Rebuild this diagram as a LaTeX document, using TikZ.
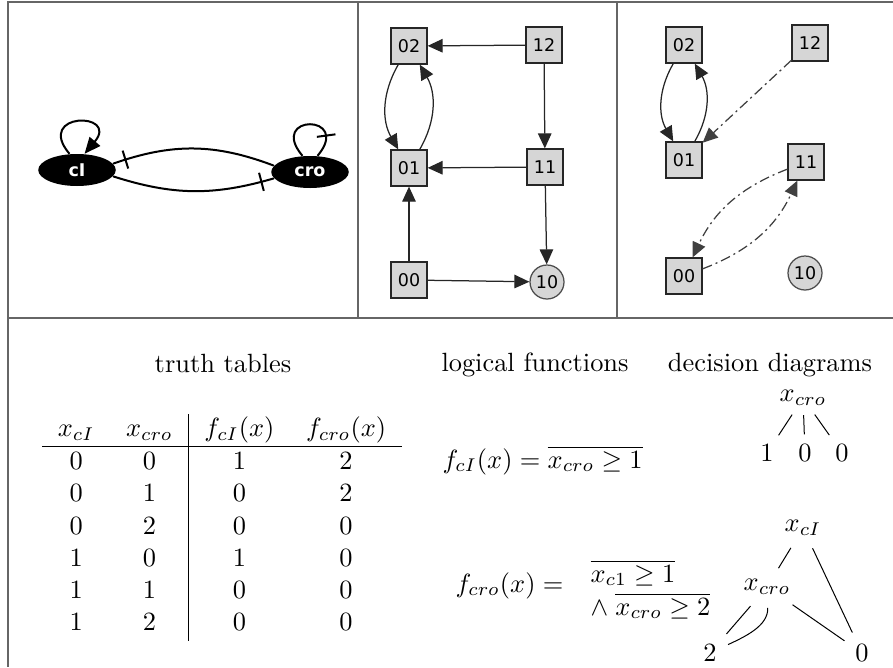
\documentclass[tikz,border=0pt]{standalone}
\usepackage{amsmath}
\usepackage{amssymb}
\usepackage{fontspec}
\newfontfamily\graphfont{DejaVu Sans}
\usepackage{tikz}
\usetikzlibrary{shapes.geometric,arrows.meta}

\begin{document}
\begin{tikzpicture}[x=0.4pt, y=-0.4pt,
    panel/.style={draw=black!60, line width=0.7pt},
    gene/.style={ellipse, fill=black, text=white, minimum width=31pt, minimum height=12.8pt, inner sep=0pt, font=\graphfont\bfseries\fontsize{7}{8}\selectfont},
    stbox/.style={rectangle, draw=black!85, fill=black!16, minimum size=14.4pt, inner sep=0pt, line width=0.5pt, font=\graphfont\fontsize{7}{8}\selectfont},
    stcirc/.style={circle, draw=black!70, fill=black!16, minimum size=13.6pt, inner sep=0pt, line width=0.5pt, font=\graphfont\fontsize{7}{8}\selectfont},
    trarrow/.style={-{Triangle[length=6pt,width=5.4pt]}, line width=0.5pt, draw=black!85},
    asyncarrow/.style={trarrow, draw=black!75, dash pattern=on 4pt off 1.6pt on 0.8pt off 1.6pt},
    inhib/.style={line width=0.8pt},
    inhbar/.style={rectangle, fill=black, inner sep=0pt, minimum width=0.8pt, minimum height=7.5pt, sloped},
    bigtext/.style={scale=1.055},
    ddline/.style={line width=0.4pt, shorten <=3pt, shorten >=2.5pt}
]
    \useasboundingbox (0,0) rectangle (893,667);

    % Frame
    \draw[panel] (893,2) -- (8,2) -- (8,667);
    \draw[panel] (8,318) -- (893,318);
    \draw[panel] (358,2) -- (358,318);
    \draw[panel] (617,2) -- (617,318);

    % Regulatory graph
    \node[gene] (cI) at (77,170) {cI};
    \node[gene] (cro) at (310,172) {cro};
    \draw[inhib, -{Triangle[length=6.5pt,width=5.5pt]}] (cI.115) .. controls +(130:22pt) and +(50:22pt) .. (cI.65);
    \draw[inhib] (cro.115) .. controls +(130:22pt) and +(50:22pt) .. node[inhbar, pos=0.8] {} (cro.65);
    \draw[inhib] (cro.170) to[bend right=20] node[inhbar, pos=0.93] {} (cI.10);
    \draw[inhib] (cI.-10) to[bend right=17] node[inhbar, pos=0.93] {} (cro.190);

    % Synchronous state graph
    \node[stbox] (sy02) at (409,46) {02};
    \node[stbox] (sy12) at (544,45) {12};
    \node[stbox] (sy01) at (409,168) {01};
    \node[stbox] (sy11) at (545,167) {11};
    \node[stbox] (sy00) at (409,280) {00};
    \node[stcirc] (sy10) at (547,282) {10};
    \draw[trarrow] (sy12) -- (sy02);
    \draw[trarrow] (sy12) -- (sy11);
    \draw[trarrow] (sy11) -- (sy01);
    \draw[trarrow] (sy11) -- (sy10);
    \draw[trarrow] (sy00) -- (sy01);
    \draw[trarrow] (sy00) -- (sy10);
    \draw[trarrow] (sy02) to[bend right=30] (sy01);
    \draw[trarrow] (sy01) to[bend right=30] (sy02);

    % Asynchronous state graph
    \node[stbox] (as02) at (684,45) {02};
    \node[stbox] (as12) at (810,43) {12};
    \node[stbox] (as01) at (684,160) {01};
    \node[stbox] (as11) at (806,162) {11};
    \node[stbox] (as00) at (684,276) {00};
    \node[stcirc] (as10) at (805,273) {10};
    \draw[trarrow] (as02) to[bend right=30] (as01);
    \draw[trarrow] (as01) to[bend right=30] (as02);
    \draw[asyncarrow] (as12) -- (as01);
    \draw[asyncarrow] (as11) to[bend right=22] (as00);
    \draw[asyncarrow] (as00) to[bend right=22] (as11);

    % Titles
    \node[bigtext, anchor=base] (ttitle) at (223,372) {truth tables};
    \node[bigtext, anchor=base] (ltitle) at (535,371) {logical functions};
    \node[bigtext, anchor=base] (dtitle) at (770,371) {decision diagrams};

    % Truth table
    \node[bigtext, anchor=north, inner sep=0pt] (ttab) at (222,413) {%
        \renewcommand{\arraystretch}{1.02}%
        \begin{tabular}{cc|cc}
            $x_{cI}$ & $x_{cro}$ & $f_{cI}(x)$ & $f_{cro}(x)$ \\ \hline
            0 & 0 & 1 & 2 \\
            0 & 1 & 0 & 2 \\
            0 & 2 & 0 & 0 \\
            1 & 0 & 1 & 0 \\
            1 & 1 & 0 & 0 \\
            1 & 2 & 0 & 0
        \end{tabular}};

    % Logical functions
    \node[bigtext, anchor=base west, inner sep=0pt] (fcI) at (442,468) {$f_{cI}(x) = \overline{x_{cro} \geq 1}$};
    \node[bigtext, anchor=base west, inner sep=0pt] (fcro) at (455,592) {$f_{cro}(x) =$};
    \node[bigtext, anchor=base west, inner sep=0pt] (fcroa) at (590,582) {$\overline{x_{c1} \geq 1}$};
    \node[bigtext, anchor=base west, inner sep=0pt] (fcrob) at (590,615) {$\wedge\;\overline{x_{cro} \geq 2}$};

    % Decision diagram of f_cI
    \node[bigtext, inner sep=2pt] (ddroot) at (803,398) {$x_{cro}$};
    \node[bigtext, inner sep=2pt] (ddone) at (767,453) {1};
    \node[bigtext, inner sep=2pt] (ddzeroa) at (805,453) {0};
    \node[bigtext, inner sep=2pt] (ddzerob) at (842,453) {0};
    \draw[ddline, shorten <=1.5pt, shorten >=1.5pt] (ddroot) -- (ddone);
    \draw[ddline, shorten <=1.5pt, shorten >=1.5pt] (ddroot) -- (ddzeroa);
    \draw[ddline, shorten <=1.5pt, shorten >=1.5pt] (ddroot) -- (ddzerob);

    % Decision diagram of f_cro
    \node[bigtext, inner sep=2pt] (ddtop) at (803,528) {$x_{cI}$};
    \node[bigtext, inner sep=2pt] (ddmid) at (767,587) {$x_{cro}$};
    \node[bigtext, inner sep=2pt] (ddtwo) at (710,653) {2};
    \node[bigtext, inner sep=2pt] (ddzero) at (862,653) {0};
    \draw[ddline] (ddtop) -- (ddmid);
    \draw[ddline] (ddtop) -- (ddzero);
    \draw[ddline] (ddmid) -- (ddtwo);
    \draw[ddline] (ddmid) to[out=-88, in=25] (ddtwo);
    \draw[ddline] (ddmid) -- (ddzero);
\end{tikzpicture}
\end{document}
